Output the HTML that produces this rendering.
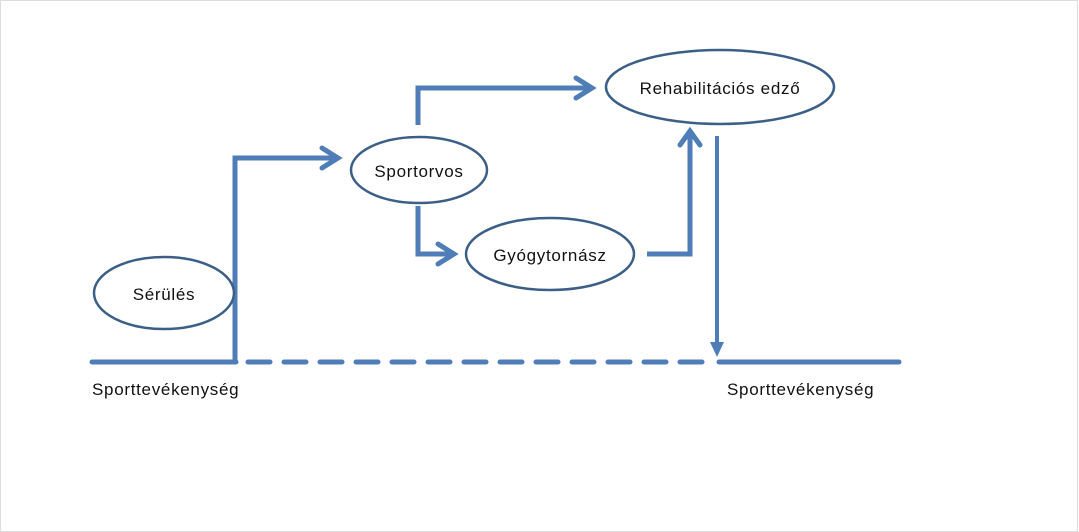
<!DOCTYPE html>
<html><head><meta charset="utf-8"><style>
html,body{margin:0;padding:0;background:#fff}
svg{display:block}
text{font-family:"Liberation Sans",sans-serif;font-size:17px;letter-spacing:0.7px;fill:#111}
</style></head><body>
<svg width="1079" height="532" viewBox="0 0 1079 532">
<rect x="0.5" y="0.5" width="1077" height="531" fill="#fff" stroke="#ddd"/>
<g fill="none" stroke="#4f7db8" stroke-width="5">
<line x1="92" y1="362" x2="236" y2="362" stroke-linecap="round"/>
<line x1="248" y1="362" x2="712" y2="362" stroke-dasharray="22,14" stroke-linecap="round"/>
<line x1="719" y1="362" x2="899" y2="362" stroke-linecap="round"/>
<polyline points="235,362 235,158 336,158"/>
<polyline points="322,148 338,158 322,168" stroke-linecap="round"/>
<polyline points="418,206 418,254 450,254"/>
<polyline points="438,244 454,254 438,264" stroke-linecap="round"/>
<polyline points="418,125 418,88 588,88"/>
<polyline points="576,78 592,88 576,98" stroke-linecap="round"/>
<polyline points="647,254 690,254 690,132"/>
<polyline points="680,145 690,131 700,145" stroke-linecap="round"/>
<line x1="717" y1="136" x2="717" y2="343" stroke-width="4"/>
</g>
<polygon points="710,342 724,342 717,357" fill="#4f7db8"/>
<g fill="#fff" stroke="#3c5f87" stroke-width="2.5">
<ellipse cx="164" cy="293" rx="70" ry="36"/>
<ellipse cx="419" cy="170" rx="68" ry="33"/>
<ellipse cx="550" cy="254" rx="84" ry="36"/>
<ellipse cx="720" cy="87" rx="114" ry="37"/>
</g>
<text x="164" y="300" text-anchor="middle">Sérülés</text>
<text x="419" y="177" text-anchor="middle">Sportorvos</text>
<text x="550" y="261" text-anchor="middle">Gyógytornász</text>
<text x="720" y="94" text-anchor="middle">Rehabilitációs edző</text>
<text x="92" y="395">Sporttevékenység</text>
<text x="727" y="395">Sporttevékenység</text>
</svg>
</body></html>
